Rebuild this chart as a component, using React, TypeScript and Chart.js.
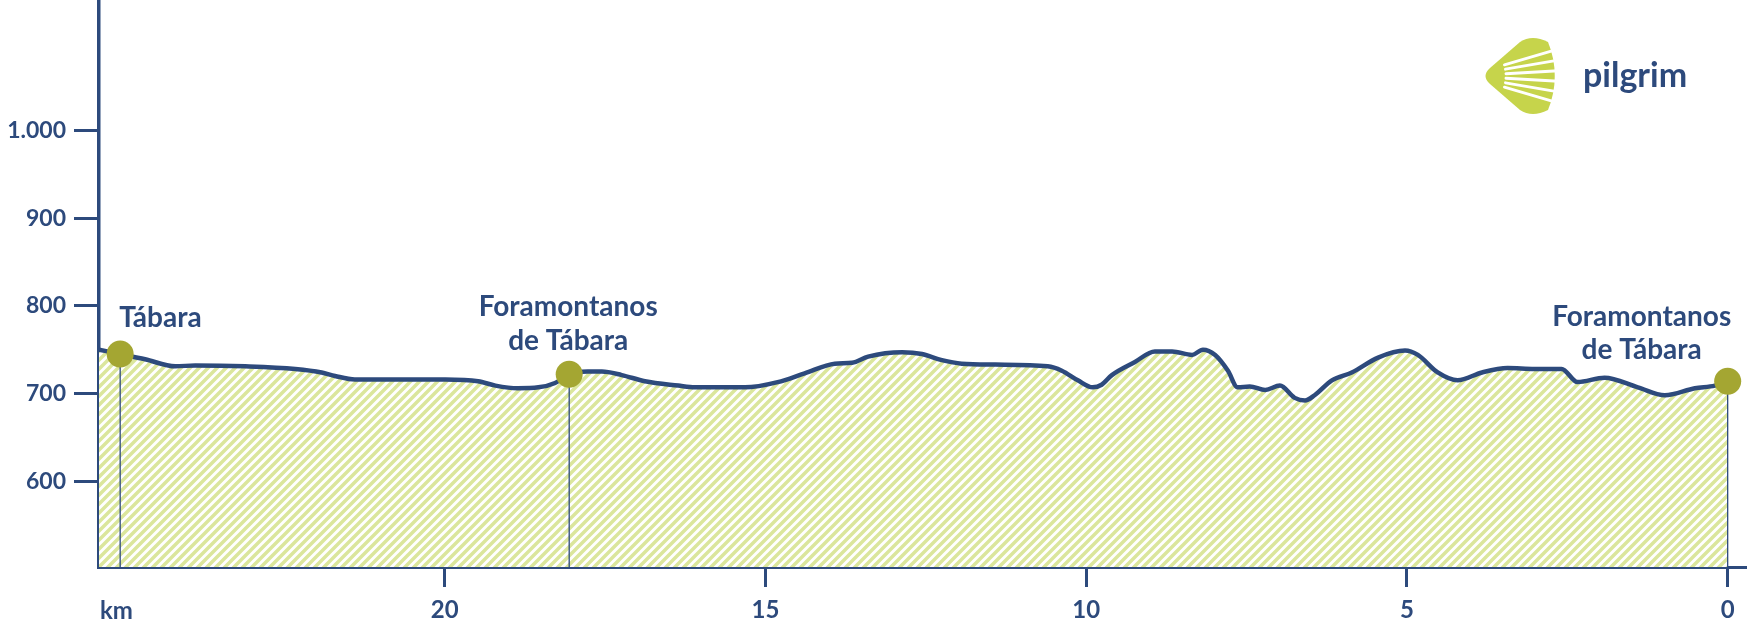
import React, { useEffect, useRef } from 'react';
import { Chart, registerables } from 'chart.js';

Chart.register(...registerables);

// ---- data ----
const kmValues = [
  25.39, 25.06, 24.67, 24.2, 23.89, 23.11, 22.33, 21.92, 21.71, 21.4, 20.77, 19.99, 19.48, 19.21,
  18.86, 18.54, 18.28, 18.06, 17.77, 17.55, 17.24, 16.88, 16.36, 16.1, 15.32, 14.81, 14.39, 13.92,
  13.65, 13.4, 12.87, 12.56, 12.25, 11.94, 11.42, 10.6, 10.38, 10.13, 9.9, 9.76, 9.6, 9.24, 8.93,
  8.66, 8.35, 8.18, 7.99, 7.79, 7.64, 7.45, 7.21, 6.98, 6.75, 6.59, 6.44, 6.17, 5.86, 5.45, 5.03,
  4.83, 4.52, 4.21, 3.83, 3.43, 3.01, 2.59, 2.34, 1.92, 1.4, 0.98, 0.51, 0.2, 0,
];
const elevValues = [
  750, 745, 739, 731, 732, 731, 728, 724, 720, 716, 716, 716, 714, 709,
  706, 707, 712, 722, 725, 725, 721, 714, 709, 707, 707, 713, 723, 734,
  735, 742, 747, 745, 738, 734, 733, 731, 726, 715, 707, 710, 721, 736, 748,
  748, 744, 750, 744, 726, 707, 708, 704, 709, 695, 692, 698, 715, 724, 741, 749,
  744, 724, 715, 724, 729, 728, 728, 713, 718, 707, 698, 706, 709, 714,
];
const placeNames = [['Tábara'], ['Foramontanos', 'de Tábara'], ['Foramontanos', 'de Tábara']];
const placeKm = [25.06, 18.06, 0];
const placeElev = [745, 722, 714];
const xTickValues = [20, 15, 10, 5, 0];
const yTickValues = [600, 700, 800, 900, 1000];
const axisUnit = 'km';
const brandName = 'pilgrim';

// ---- style ----
const BLUE = '#2d4a7c';
const OLIVE = '#a4a632';
const STRIPE = '#dbe69c';
const LOGO_GREEN = '#c6d44b';
const FONT = 'Lato, "Open Sans", sans-serif';
const X_MIN = -0.27;
const X_MAX = 25.39;
const Y_MIN = 502;
const Y_MAX = 1149;
const labelStyles = [
  { align: 'left', dx: -1, dy: [-36] },
  { align: 'center', dx: -1, dy: [-67, -33] },
  { align: 'center', dx: -86, dy: [-64, -31] },
];

function formatThousands(v: number): string {
  return String(Math.round(v)).replace(/\B(?=(\d{3})+(?!\d))/g, '.');
}

function makeStripePattern(ctx: CanvasRenderingContext2D): CanvasPattern | string {
  const s = 9;
  const c = document.createElement('canvas');
  c.width = s;
  c.height = s;
  const g = c.getContext('2d');
  if (!g) return STRIPE;
  g.fillStyle = '#ffffff';
  g.fillRect(0, 0, s, s);
  g.strokeStyle = STRIPE;
  g.lineWidth = 3.5;
  g.beginPath();
  g.moveTo(-s, s);
  g.lineTo(s, -s);
  g.moveTo(0, s);
  g.lineTo(s, 0);
  g.moveTo(0, 2 * s);
  g.lineTo(2 * s, 0);
  g.stroke();
  return ctx.createPattern(c, 'repeat') || STRIPE;
}

function drawLogo(ctx: CanvasRenderingContext2D) {
  ctx.save();
  const fx = 1466;
  const fy = 76;
  ctx.fillStyle = LOGO_GREEN;
  ctx.beginPath();
  ctx.moveTo(1490, 68);
  ctx.quadraticCurveTo(1481, 76, 1490, 84);
  ctx.lineTo(1520, 110);
  ctx.quadraticCurveTo(1532, 118, 1548, 110);
  const a1 = Math.atan2(110 - fy, 1548 - fx);
  const r = Math.hypot(110 - fy, 1548 - fx);
  ctx.arc(fx, fy, r, a1, -a1, true);
  ctx.quadraticCurveTo(1532, 34, 1520, 42);
  ctx.closePath();
  ctx.fill();
  ctx.strokeStyle = '#ffffff';
  ctx.lineWidth = 2.8;
  ctx.lineCap = 'round';
  for (const deg of [-16.25, -9.75, -3.25, 3.25, 9.75, 16.25]) {
    const a = (deg * Math.PI) / 180;
    ctx.beginPath();
    ctx.moveTo(fx + 40 * Math.cos(a), fy + 40 * Math.sin(a));
    ctx.lineTo(fx + 110 * Math.cos(a), fy + 110 * Math.sin(a));
    ctx.stroke();
  }
  ctx.fillStyle = BLUE;
  ctx.font = `bold 34px ${FONT}`;
  ctx.textAlign = 'left';
  ctx.textBaseline = 'alphabetic';
  ctx.fillText(brandName, 1583, 87);
  ctx.restore();
}

const labelsPlugin = {
  id: 'profileLabels',
  afterDraw(chart: any) {
    const ctx: CanvasRenderingContext2D = chart.ctx;
    const xs = chart.scales.x;
    const ys = chart.scales.y;
    ctx.save();
    ctx.fillStyle = BLUE;
    ctx.textBaseline = 'middle';
    ctx.font = `bold 28px ${FONT}`;
    placeNames.forEach((lines, i) => {
      const px = xs.getPixelForValue(placeKm[i]);
      const py = ys.getPixelForValue(placeElev[i]);
      const st = labelStyles[i];
      ctx.textAlign = st.align as CanvasTextAlign;
      lines.forEach((t, j) => ctx.fillText(t, px + st.dx, py + st.dy[j]));
    });
    ctx.font = `bold 24px ${FONT}`;
    ctx.textAlign = 'left';
    ctx.fillText(axisUnit, chart.chartArea.left + 1, 611);
    drawLogo(ctx);
    ctx.restore();
  },
};

export default function App() {
  const ref = useRef<HTMLCanvasElement | null>(null);

  useEffect(() => {
    const canvas = ref.current;
    if (!canvas) return;
    const ctx = canvas.getContext('2d');
    if (!ctx) return;
    const pattern = makeStripePattern(ctx);

    const profile = kmValues.map((k, i) => ({ x: k, y: elevValues[i] }));
    const markers = placeKm.map((k, i) => ({ x: k, y: placeElev[i] }));
    const stems = placeKm.map((k, i) => ({
      type: 'line',
      data: [
        { x: k, y: placeElev[i] },
        { x: k, y: Y_MIN },
      ],
      borderColor: BLUE,
      borderWidth: 1.3,
      pointRadius: 0,
      fill: false,
      order: 2,
    }));

    const chart = new Chart(ctx, {
      type: 'line',
      data: {
        datasets: [
          {
            data: profile,
            borderColor: BLUE,
            borderWidth: 4.5,
            backgroundColor: pattern as any,
            fill: 'start',
            pointRadius: 0,
            cubicInterpolationMode: 'monotone',
            order: 3,
          } as any,
          ...(stems as any[]),
          {
            data: markers,
            showLine: false,
            pointRadius: 13.5,
            pointBackgroundColor: OLIVE,
            pointBorderWidth: 0,
            pointBorderColor: OLIVE,
            order: 1,
            clip: false,
          } as any,
        ],
      },
      options: {
        animation: false,
        responsive: false,
        devicePixelRatio: 1,
        layout: { autoPadding: false, padding: { top: 0, right: 8, left: 0, bottom: 0 } },
        plugins: { legend: { display: false }, tooltip: { enabled: false } },
        events: [],
        scales: {
          x: {
            type: 'linear',
            reverse: true,
            min: X_MIN,
            max: X_MAX,
            afterBuildTicks: (scale: any) => {
              scale.ticks = xTickValues.map((v) => ({ value: v }));
            },
            afterFit: (scale: any) => {
              scale.height = 58;
              scale.paddingLeft = 0;
              scale.paddingRight = 0;
            },
            grid: { drawOnChartArea: false, drawTicks: true, tickLength: 20, lineWidth: 3, color: BLUE },
            border: { display: true, color: BLUE, width: 3 },
            ticks: {
              color: BLUE,
              font: { family: FONT, size: 24, weight: 'bold' },
              padding: 9,
              maxRotation: 0,
              autoSkip: false,
              callback: (v: any) => String(v),
            },
          },
          y: {
            type: 'linear',
            min: Y_MIN,
            max: Y_MAX,
            afterBuildTicks: (scale: any) => {
              scale.ticks = yTickValues.map((v) => ({ value: v }));
            },
            afterFit: (scale: any) => {
              scale.width = 99;
              scale.paddingTop = 0;
              scale.paddingBottom = 0;
            },
            grid: { drawOnChartArea: false, drawTicks: true, tickLength: 25, lineWidth: 3, color: BLUE },
            border: { display: true, color: BLUE, width: 3.5 },
            ticks: {
              color: BLUE,
              font: { family: FONT, size: 23, weight: 'bold' },
              padding: 8,
              autoSkip: false,
              callback: (v: any) => formatThousands(Number(v)),
            },
          },
        },
      },
      plugins: [labelsPlugin as any],
    } as any);

    return () => chart.destroy();
  }, []);

  return (
    <div style={{ position: 'absolute', left: 0, top: 0, width: 1753, height: 625, background: '#ffffff' }}>
      <canvas ref={ref} width={1753} height={625} style={{ display: 'block', width: 1753, height: 625 }} />
    </div>
  );
}
